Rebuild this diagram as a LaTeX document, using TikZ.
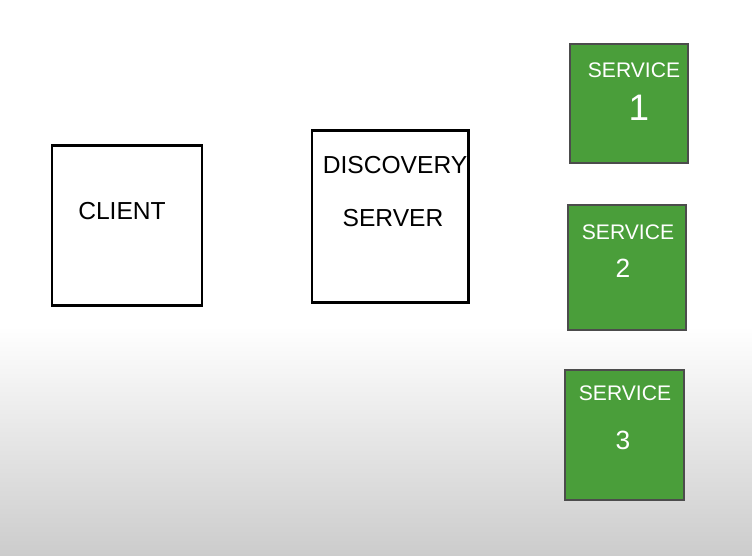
\documentclass[tikz,border=0pt]{standalone}
\usepackage{fontspec}
\setmainfont{Liberation Sans}
\definecolor{svcgreen}{RGB}{74,158,58}
\definecolor{bgshade}{RGB}{204,204,204}
\usetikzlibrary{positioning}

\begin{document}
\begin{tikzpicture}[
  box/.style={draw=black, line width=1.7pt, fill=white, inner sep=0pt},
  svcbox/.style={draw=black!70, line width=0.6pt, fill=svcgreen, inner sep=0pt},
  boxtext/.style={font=\fontsize{14}{17}\selectfont, text=black},
  svctext/.style={font=\fontsize{12}{14}\selectfont, text=white},
  svcnum/.style={font=\fontsize{15}{18}\selectfont, text=white}
]
  \useasboundingbox (0,0) rectangle (15.04,11.12);

  % Background
  \fill[white] (0,0) rectangle (15.04,11.12);
  \shade[top color=white, bottom color=bgshade] (0,0) rectangle (15.04,4.6);

  % Client and discovery server
  \node[box, minimum width=3.0cm, minimum height=3.2cm] (client) at (2.54,6.6) {};
  \node[boxtext] (clientlbl) at (2.44,6.9) {CLIENT};

  \node[box, minimum width=3.12cm, minimum height=3.44cm] (discovery) at (7.8,6.78) {};
  \node[boxtext] (disclbl) at (7.9,7.82) {DISCOVERY};
  \node[boxtext] (servlbl) at (7.86,6.76) {SERVER};

  % Services
  \node[svcbox, minimum width=2.36cm, minimum height=2.38cm] (svc1) at (12.58,9.05) {};
  \node[svctext] (svc1lbl) at (12.68,9.72) {SERVICE};
  \node[svcnum, font=\fontsize{21}{25}\selectfont] (svc1num) at (12.78,8.96) {1};

  \node[svcbox, minimum width=2.36cm, minimum height=2.5cm] (svc2) at (12.54,5.77) {};
  \node[svctext] (svc2lbl) at (12.56,6.48) {SERVICE};
  \node[svcnum] (svc2num) at (12.46,5.76) {2};

  \node[svcbox, minimum width=2.38cm, minimum height=2.6cm] (svc3) at (12.49,2.42) {};
  \node[svctext] (svc3lbl) at (12.5,3.26) {SERVICE};
  \node[svcnum] (svc3num) at (12.46,2.32) {3};
\end{tikzpicture}
\end{document}
